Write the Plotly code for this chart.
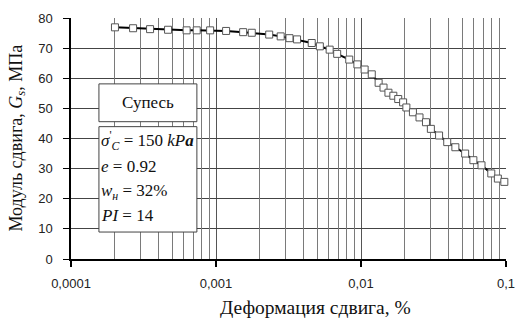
import plotly.graph_objects as go

# Shear strain, % (log scale) and shear modulus Gs, MPa
strain = [0.000201, 0.000268, 0.000351, 0.000467, 0.000627, 0.000736, 0.000911,
          0.001174, 0.001539, 0.001765, 0.002328, 0.002793, 0.003212, 0.003622,
          0.004573, 0.005202, 0.006078, 0.006851, 0.008297, 0.009441, 0.010593,
          0.011867, 0.013232, 0.014300, 0.015460, 0.016710, 0.018060, 0.019520,
          0.020550, 0.022810, 0.025320, 0.028060, 0.030330, 0.034550, 0.039320,
          0.044750, 0.052270, 0.059570, 0.067780, 0.079170, 0.087870, 0.097390]
modulus = [76.9, 76.6, 76.3, 76.1, 75.9, 75.9, 75.9,
           75.7, 75.3, 75.1, 74.5, 73.9, 73.3, 72.9,
           71.7, 70.6, 69.5, 68.1, 66.2, 64.6, 62.9,
           61.3, 58.5, 56.9, 55.2, 54.2, 53.1, 52.0,
           50.3, 48.7, 47.0, 45.4, 43.2, 41.0, 38.8,
           37.1, 35.0, 32.8, 31.1, 28.4, 26.7, 25.6]

x_tickvals = [0.0001, 0.001, 0.01, 0.1]
x_ticktext = ["0,0001", "0,001", "0,01", "0,1"]
y_tickvals = [0, 10, 20, 30, 40, 50, 60, 70, 80]

soil_name = "Супесь"
soil_props = [
    "<i>σ</i><sup>'</sup><sub><i>C</i></sub> = 150 <i>kP<b>a</b></i>",
    "<i>e</i> = 0.92",
    "<i>w</i><sub><i>н</i></sub> = 32%",
    "<i>PI</i> = 14",
]

# intermediate log gridlines (2..9 within each decade)
minor_grid = [m * d for d in x_tickvals[:-1] for m in range(2, 10)]

SERIF = "Liberation Serif, Times New Roman, serif"
SANS = "Liberation Sans, Arial, sans-serif"

fig = go.Figure()
# empty trace so the overlaid minor-grid axis is rendered
fig.add_trace(go.Scatter(x=[], y=[], xaxis="x2", showlegend=False, hoverinfo="skip"))
fig.add_trace(go.Scatter(
    x=strain, y=modulus, mode="lines+markers",
    line=dict(color="black", width=2),
    marker=dict(symbol="square", size=7, color="white",
                line=dict(color="#555555", width=1)),
    showlegend=False, cliponaxis=False,
))

fig.update_layout(
    width=526, height=322,
    margin=dict(l=71, r=11, t=15, b=63),
    paper_bgcolor="white", plot_bgcolor="white",
    font=dict(family=SANS, size=13, color="#222222"),
    xaxis=dict(
        type="log", range=[-4, -1],
        tickvals=x_tickvals, ticktext=x_ticktext,
        showgrid=True, gridcolor="#555555", gridwidth=1,
        showline=True, linecolor="black", linewidth=2,
        ticks="outside", ticklen=6, tickcolor="black", tickwidth=1.5,
        ticklabelstandoff=5,
        tickfont=dict(family=SANS, size=13, color="#222222"),
        zeroline=False,
    ),
    xaxis2=dict(
        type="log", range=[-4, -1], overlaying="x", side="bottom",
        tickvals=minor_grid, showticklabels=False, ticks="",
        showgrid=True, gridcolor="#7a7a7a", gridwidth=1,
        showline=False, zeroline=False,
    ),
    yaxis=dict(
        range=[0, 80], tickvals=y_tickvals,
        showgrid=True, gridcolor="#444444", gridwidth=1,
        showline=True, linecolor="black", linewidth=1.5,
        ticks="outside", ticklen=6, tickcolor="black",
        ticklabelstandoff=8,
        tickfont=dict(family=SANS, size=13, color="#222222"),
        zeroline=False,
    ),
)

# Axis titles
fig.add_annotation(
    text="Модуль сдвига, <i>G</i><sub><i>s</i></sub>, МПа",
    xref="paper", yref="paper", x=0, y=0.5, xshift=-54,
    textangle=-90, showarrow=False, xanchor="center", yanchor="middle",
    font=dict(family=SERIF, size=18, color="#111111"),
)
fig.add_annotation(
    text="Деформация сдвига, %",
    xref="paper", yref="paper", x=0.563, y=0, yshift=-48,
    showarrow=False, xanchor="center", yanchor="middle",
    font=dict(family=SERIF, size=19.5, color="#111111"),
)

# Soil description boxes
box_x0, box_x1 = 0.0642, 0.2894
fig.add_shape(type="rect", xref="paper", yref="paper",
              x0=box_x0, x1=box_x1, y0=0.5697, y1=0.7266,
              fillcolor="white", line=dict(color="#444444", width=1), layer="above")
fig.add_shape(type="rect", xref="paper", yref="paper",
              x0=box_x0, x1=box_x1, y0=0.1119, y1=0.5492,
              fillcolor="white", line=dict(color="#444444", width=1), layer="above")

fig.add_annotation(
    text=soil_name, xref="paper", yref="paper",
    x=(box_x0 + box_x1) / 2, y=(0.5697 + 0.7266) / 2,
    showarrow=False, xanchor="center", yanchor="middle",
    font=dict(family=SERIF, size=17, color="#111111"),
)
prop_rows = [0.4918, 0.3852, 0.2787, 0.1803]
for txt, yy in zip(soil_props, prop_rows):
    fig.add_annotation(
        text=txt, xref="paper", yref="paper", x=box_x0, xshift=0, y=yy,
        showarrow=False, xanchor="left", yanchor="middle",
        font=dict(family=SERIF, size=17, color="#111111"),
    )

fig.write_html("out.html")
